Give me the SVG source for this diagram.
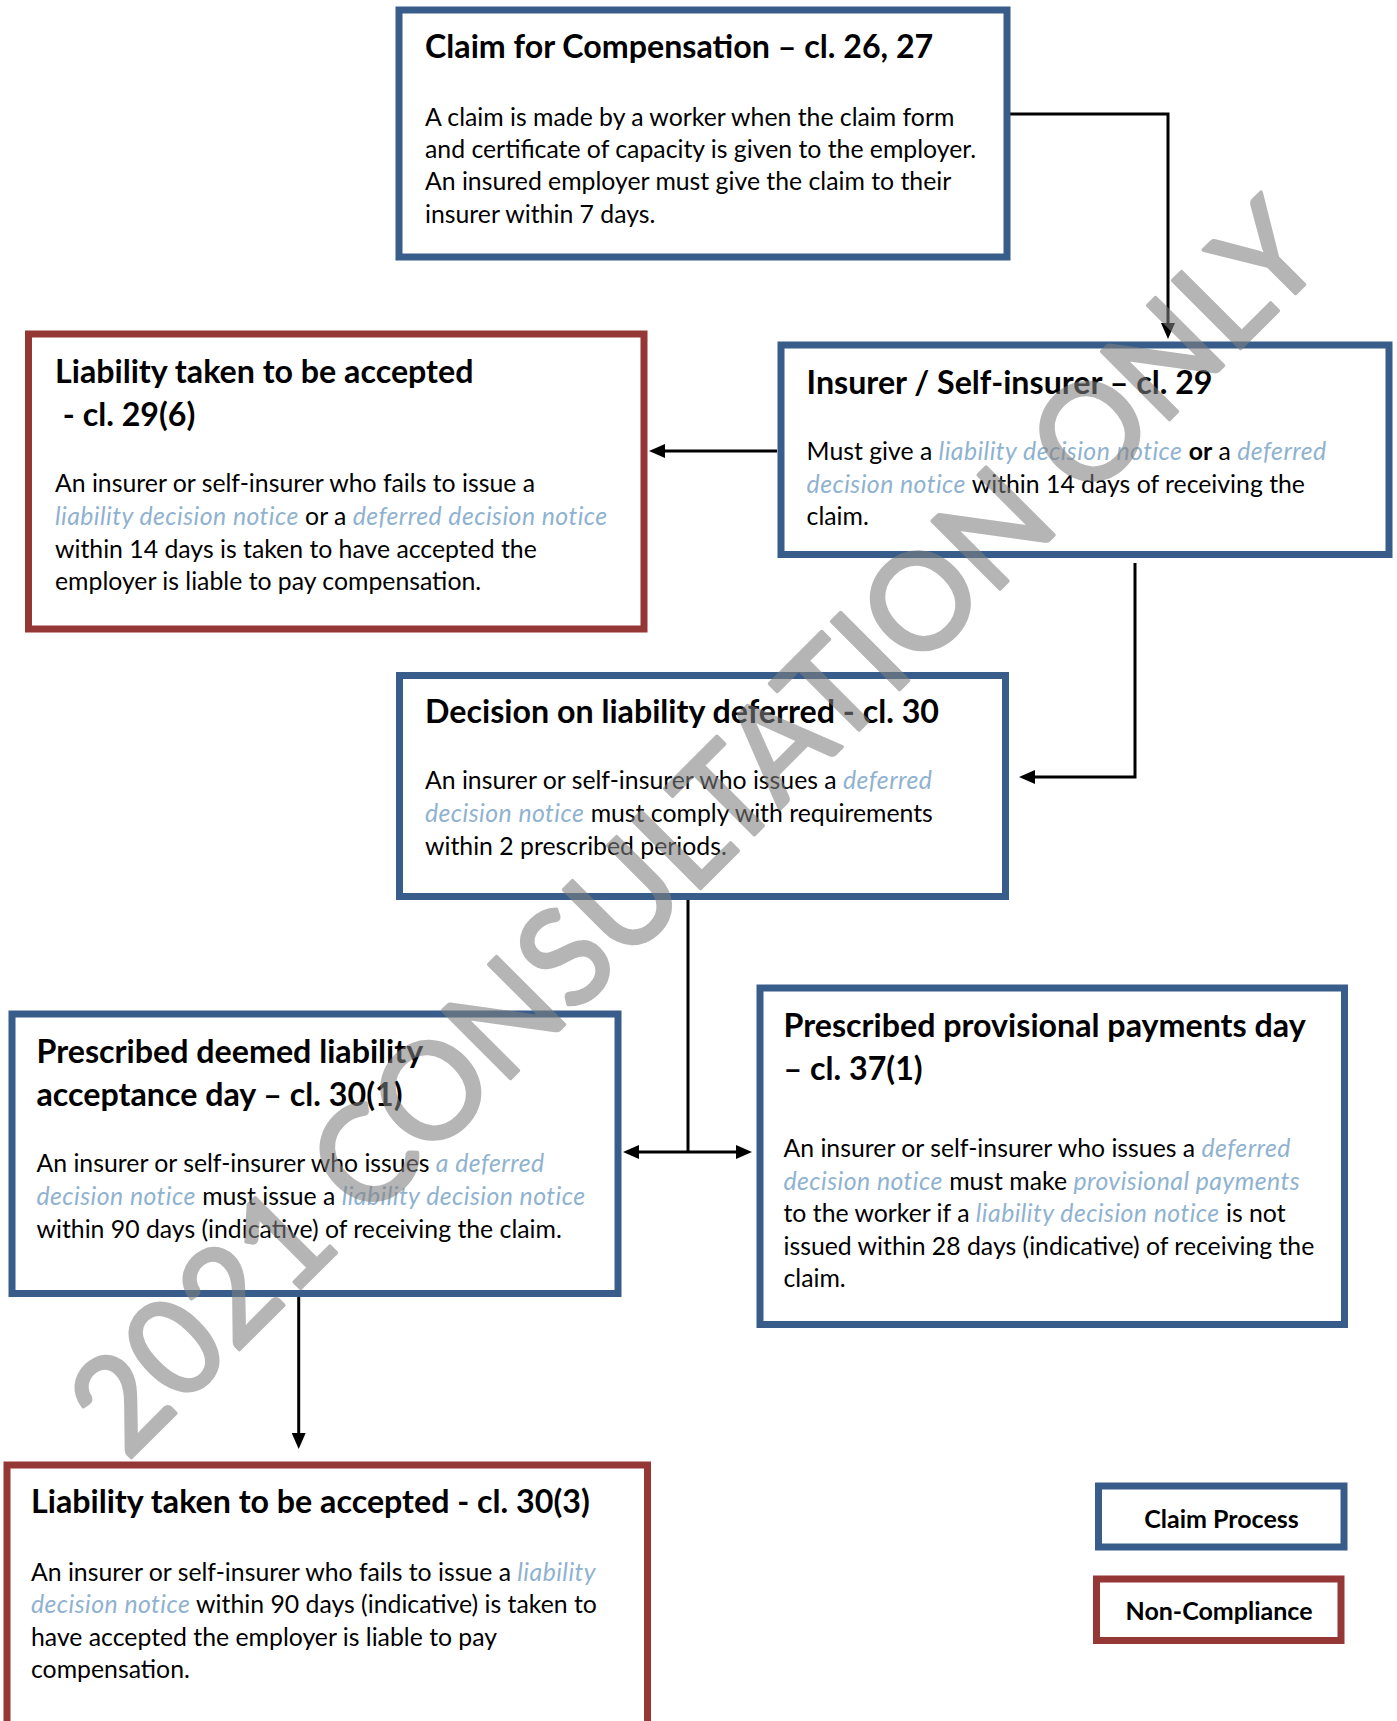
<svg xmlns="http://www.w3.org/2000/svg" width="1397" height="1721" viewBox="0 0 1397 1721">
<style>
.bg{fill:#fff}
.blue{fill:#fff;stroke:#385D8A;stroke-width:7}
.red{fill:#fff;stroke:#953735;stroke-width:7}
.t{font-family:Lato,"Liberation Sans",sans-serif;font-weight:700;font-size:32.2px;fill:#000}
.b{font-family:Lato,"Liberation Sans",sans-serif;font-size:24.8px;fill:#000}
.i{font-style:italic;fill:#8FB2D0;letter-spacing:0.45px}
.bo{font-weight:700}
.lg{font-family:Lato,"Liberation Sans",sans-serif;font-weight:700;font-size:25px;fill:#000;text-anchor:middle}
.conn{stroke:#000;stroke-width:3;fill:none}
.wm{font-family:Lato,"Liberation Sans",sans-serif;font-size:134px;fill:#808080;stroke:#808080;stroke-width:3.5;stroke-linejoin:round}
</style>
<defs>
<marker id="ah" viewBox="0 0 16 14" refX="8" refY="7" markerWidth="16" markerHeight="14" markerUnits="userSpaceOnUse" orient="auto-start-reverse">
<path d="M0,0 L16,7 L0,14 z" fill="#000"/>
</marker>
</defs>
<rect class="bg" x="0" y="0" width="1397" height="1721"/>

<g id="connectors">
<path class="conn" d="M1010,114 H1168 V331" marker-end="url(#ah)"/>
<path class="conn" d="M777,451 H657" marker-end="url(#ah)"/>
<path class="conn" d="M1135,563 V777 H1027" marker-end="url(#ah)"/>
<path class="conn" d="M688,900 V1152"/>
<path class="conn" d="M631,1152 H744" marker-start="url(#ah)" marker-end="url(#ah)"/>
<path class="conn" d="M298.7,1297 V1441" marker-end="url(#ah)"/>
</g>

<g id="claim">
<rect class="blue" x="399" y="10" width="608" height="247"/>
<text class="t" x="425" y="58">Claim for Compensation – cl. 26, 27</text>
<text class="b" x="425" y="125.5">A claim is made by a worker when the claim form</text>
<text class="b" x="425" y="157.9">and certificate of capacity is given to the employer.</text>
<text class="b" x="425" y="190.3">An insured employer must give the claim to their</text>
<text class="b" x="425" y="222.7">insurer within 7 days.</text>
</g>

<g id="liability-29-6">
<rect class="red" x="28.5" y="334" width="615.5" height="295"/>
<text class="t" x="55" y="383">Liability taken to be accepted</text>
<text class="t" x="55" y="425.7">&#160;- cl. 29(6)</text>
<text class="b" x="55" y="491.9">An insurer or self-insurer who fails to issue a</text>
<text class="b" x="55" y="524.7"><tspan class="i">liability decision notice</tspan><tspan> or a </tspan><tspan class="i">deferred decision notice</tspan></text>
<text class="b" x="55" y="557.5">within 14 days is taken to have accepted the</text>
<text class="b" x="55" y="590.3">employer is liable to pay compensation.</text>
</g>

<g id="insurer">
<rect class="blue" x="781" y="345" width="608" height="209.5"/>
<text class="t" x="806.6" y="394">Insurer / Self-insurer – cl. 29</text>
<text class="b" x="806.6" y="460.1"><tspan>Must give a </tspan><tspan class="i">liability decision notice</tspan><tspan> </tspan><tspan class="bo">or</tspan><tspan> a </tspan><tspan class="i">deferred</tspan></text>
<text class="b" x="806.6" y="492.7"><tspan class="i">decision notice</tspan><tspan> within 14 days of receiving the</tspan></text>
<text class="b" x="806.6" y="525.1">claim.</text>
</g>

<g id="deferred">
<rect class="blue" x="399.5" y="675.5" width="606" height="221"/>
<text class="t" x="425" y="723">Decision on liability deferred - cl. 30</text>
<text class="b" x="425" y="789.3"><tspan>An insurer or self-insurer who issues a </tspan><tspan class="i">deferred</tspan></text>
<text class="b" x="425" y="822.1"><tspan class="i">decision notice</tspan><tspan> must comply with requirements</tspan></text>
<text class="b" x="425" y="854.9">within 2 prescribed periods.</text>
</g>

<g id="deemed-acceptance">
<rect class="blue" x="12" y="1014" width="606" height="279.5"/>
<text class="t" x="36.5" y="1062.5">Prescribed deemed liability</text>
<text class="t" x="36.5" y="1106">acceptance day – cl. 30(1)</text>
<text class="b" x="36.5" y="1172.3"><tspan>An insurer or self-insurer who issues </tspan><tspan class="i">a deferred</tspan></text>
<text class="b" x="36.5" y="1204.9"><tspan class="i">decision notice</tspan><tspan> must issue a </tspan><tspan class="i">liability decision notice</tspan></text>
<text class="b" x="36.5" y="1237.5">within 90 days (indicative) of receiving the claim.</text>
</g>

<g id="provisional-payments">
<rect class="blue" x="760" y="988" width="584.5" height="336.5"/>
<text class="t" x="783.5" y="1037">Prescribed provisional payments day</text>
<text class="t" x="783.5" y="1079.7">– cl. 37(1)</text>
<text class="b" x="783.5" y="1157"><tspan>An insurer or self-insurer who issues a </tspan><tspan class="i">deferred</tspan></text>
<text class="b" x="783.5" y="1189.6"><tspan class="i">decision notice</tspan><tspan> must make </tspan><tspan class="i">provisional payments</tspan></text>
<text class="b" x="783.5" y="1222.2"><tspan>to the worker if a </tspan><tspan class="i">liability decision notice</tspan><tspan> is not</tspan></text>
<text class="b" x="783.5" y="1254.8">issued within 28 days (indicative) of receiving the</text>
<text class="b" x="783.5" y="1287.4">claim.</text>
</g>

<g id="liability-30-3">
<rect class="red" x="7" y="1465" width="640.5" height="300"/>
<text class="t" x="31" y="1513.2">Liability taken to be accepted - cl. 30(3)</text>
<text class="b" x="31" y="1580.5"><tspan>An insurer or self-insurer who fails to issue a </tspan><tspan class="i">liability</tspan></text>
<text class="b" x="31" y="1613.1"><tspan class="i">decision notice</tspan><tspan> within 90 days (indicative) is taken to</tspan></text>
<text class="b" x="31" y="1645.7">have accepted the employer is liable to pay</text>
<text class="b" x="31" y="1678.3">compensation.</text>
</g>

<g id="legend-claim-process">
<rect class="blue" x="1098.5" y="1486" width="245.5" height="61"/>
<text class="lg" x="1221.5" y="1528">Claim Process</text>
</g>
<g id="legend-non-compliance">
<rect class="red" x="1096.5" y="1579" width="244.5" height="61.5"/>
<text class="lg" x="1219" y="1620.2">Non-Compliance</text>
</g>

<g id="watermark" opacity="0.58">
<text class="wm" transform="translate(127,1462) rotate(-45)" textLength="1700" lengthAdjust="spacingAndGlyphs">2021 CONSULTATION ONLY</text>
</g>
</svg>
